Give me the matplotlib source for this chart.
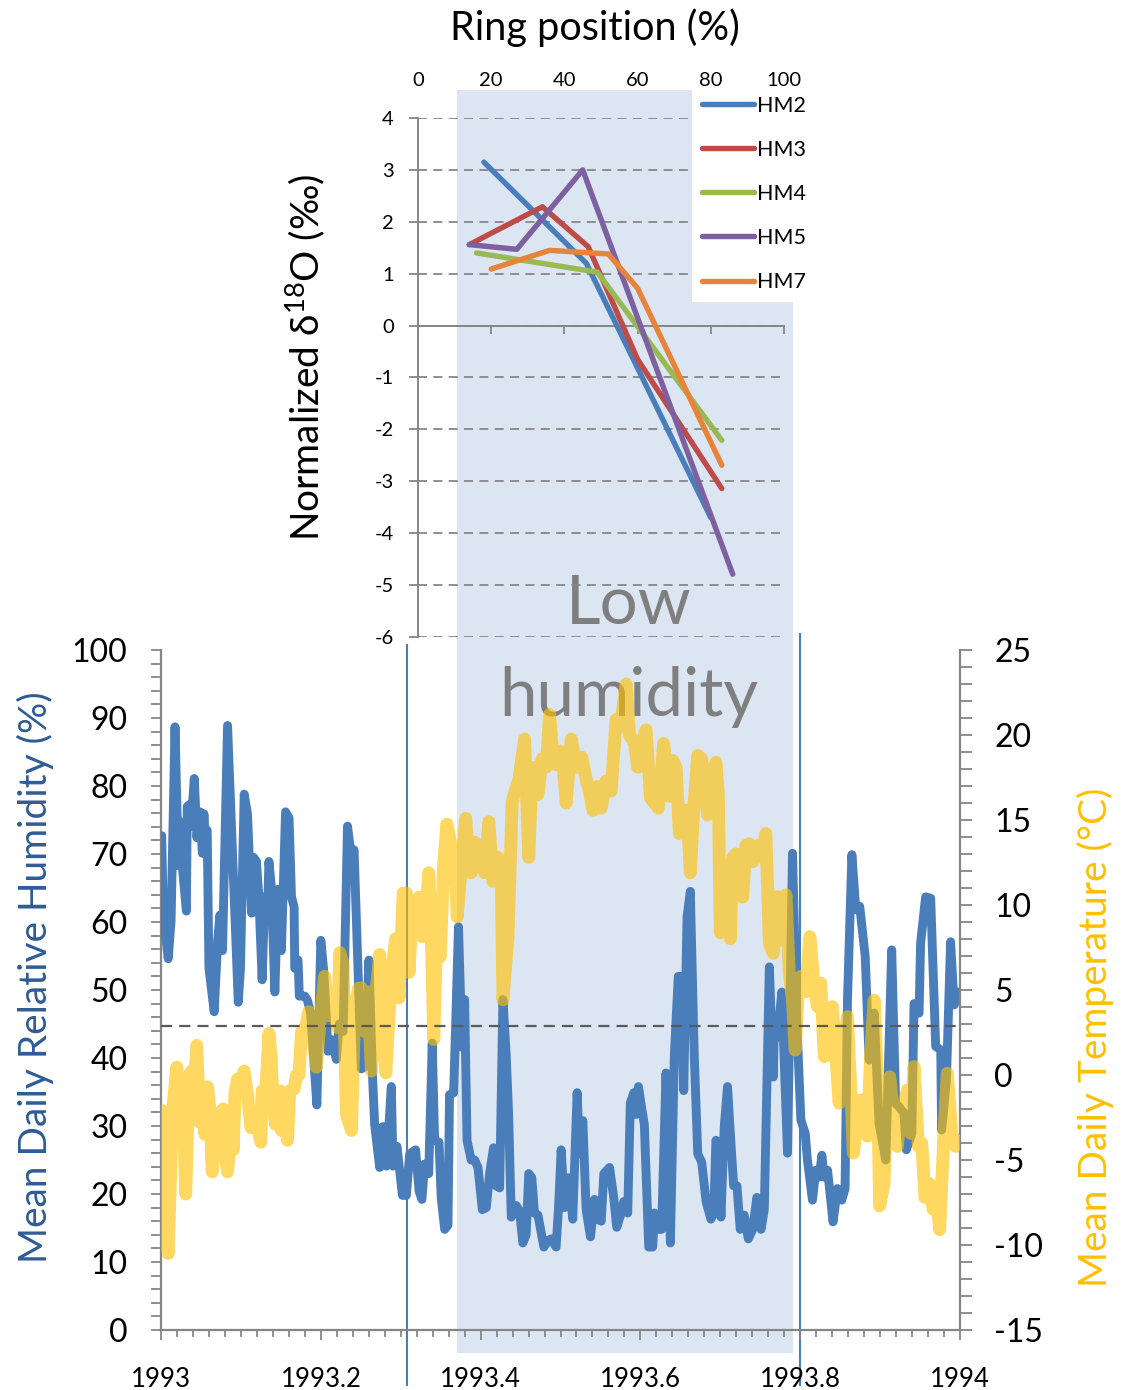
import matplotlib
matplotlib.use('Agg')
import matplotlib.pyplot as plt
import matplotlib.transforms as mtransforms
from matplotlib.patches import Rectangle
from matplotlib.lines import Line2D
from matplotlib.ticker import MultipleLocator, FixedLocator, FixedFormatter

plt.rcParams['font.family'] = ['Lato', 'DejaVu Sans']
plt.rcParams['mathtext.fontset'] = 'custom'
plt.rcParams['mathtext.rm'] = 'Lato'
plt.rcParams['mathtext.it'] = 'Lato:italic'
plt.rcParams['mathtext.bf'] = 'Lato:bold'
plt.rcParams['axes.unicode_minus'] = False

# ---------------- data: top panel (ring position vs normalized d18O) ----------------
series_names = ["HM2", "HM3", "HM4", "HM5", "HM7"]
series_colors = ["#4A7EBB", "#BE4B48", "#98B954", "#7D60A0", "#E8833A"]
hm2_pos = [18, 46, 80]
hm2_d18o = [3.15, 1.2, -3.7]
hm3_pos = [14, 34, 46.5, 60, 83]
hm3_d18o = [1.56, 2.29, 1.52, -0.65, -3.14]
hm4_pos = [16, 49, 83]
hm4_d18o = [1.40, 1.03, -2.21]
hm5_pos = [14, 27, 45, 86]
hm5_d18o = [1.56, 1.47, 3.0, -4.79]
hm7_pos = [20, 36, 52, 60, 83]
hm7_d18o = [1.09, 1.45, 1.38, 0.72, -2.69]

# ---------------- data: bottom panel (daily climate 1993) ----------------
rh_day = [0.3, 1.1, 3.3, 4.6, 6.4, 7.9, 9.1, 9.7, 11.6, 12.0, 13.2, 13.7, 15.2, 16.4, 17.8, 18.9, 19.6, 20.1,
          21.1, 21.9, 24.3, 25.9, 26.9, 28.1, 30.4, 32.2, 35.3, 36.3, 38.0, 39.5, 41.4, 42.3, 43.6, 44.7, 46.2,
          47.4, 48.7, 49.3, 50.5, 52.0, 53.5, 55.0, 56.9, 58.5, 59.6, 60.8, 61.1, 62.6, 63.2, 65.7, 66.9, 68.4,
          71.2, 73.0, 74.4, 76.3, 77.9, 80.1, 81.4, 83.2, 85.2, 87.0, 88.2, 91.5,
          93.1, 95.0, 96.6, 97.6, 99.9, 101.4, 103.0, 105.2, 106.0, 107.8, 110.3, 112.1, 113.6, 116.3, 117.9,
          119.2, 120.4, 122.3, 123.9, 125.0, 127.0, 128.0, 129.6, 131.1, 131.8, 133.7, 135.9, 137.5, 138.7,
          139.8, 141.7, 143.3, 144.8, 146.8, 148.6, 150.1, 151.9, 153.1, 154.7, 156.2, 157.7, 158.8, 160.0,
          162.3, 163.8, 165.3, 166.8, 168.0, 169.4, 170.6, 172.2, 173.4, 174.9, 176.7, 178.2, 180.5, 181.7,
          182.8, 184.3,
          186.2, 188.1, 190.1, 191.2, 192.7, 194.2, 196.2, 198.0, 199.5, 201.1, 202.3, 204.9, 206.8, 208.2,
          210.2, 211.4, 213.2, 214.4, 216.0, 217.0, 218.1, 219.6, 220.8, 222.8, 224.6, 225.4, 227.4, 228.7,
          230.7, 232.7, 234.5, 236.3, 237.6, 238.8, 240.3, 241.8, 243.6, 245.2, 247.0, 249.0, 251.2, 252.5,
          253.5, 254.6, 255.8, 257.3, 258.8, 260.1, 261.6, 263.1, 264.6, 266.4, 268.3, 270.3, 272.2, 274.1,
          275.6,
          277.9, 279.7, 280.1, 281.7, 283.6, 286.2, 288.5, 290.3, 292.3, 294.3, 295.3, 297.6, 299.1, 300.7,
          301.9, 302.9, 304.5, 307.0, 309.0, 311.0, 312.5, 313.6, 315.6, 317.4, 319.2, 321.7, 323.5, 325.8,
          328.0, 331.1, 333.8, 335.6, 337.2, 339.4, 340.5, 343.0, 344.0, 346.3, 347.0, 349.3, 351.6, 353.9,
          356.2, 356.6, 358.8, 360.7, 362.3, 364.5]
rh_val = [72.7, 60.8, 54.6, 60.2, 88.7, 68.3, 74.7, 68.3, 61.6, 77.0, 77.3, 74.1, 81.1, 72.4, 76.2, 70.1, 75.9, 73.0,
          73.5, 53.2, 46.8, 57.3, 61.0, 55.8, 88.9, 74.1, 48.2, 53.2, 78.8, 75.9, 61.3, 69.5, 68.9, 63.7, 51.5,
          63.7, 61.9, 68.9, 64.8, 49.7, 64.8, 55.8, 76.2, 75.3, 63.7, 62.2, 53.2, 54.4, 49.1, 49.1, 48.5, 46.5,
          33.1, 57.3, 52.6, 41.0, 42.7, 39.8, 45.0, 43.9, 74.1, 69.5, 70.6, 38.4,
          38.7, 54.4, 37.5, 30.2, 23.9, 29.9, 24.1, 35.8, 24.1, 27.0, 19.8, 19.8, 25.9, 26.5, 20.4,
          19.2, 24.4, 23.0, 42.2, 27.9, 27.6, 19.5, 14.8, 15.4, 34.6, 34.9, 59.3, 41.6, 48.6,
          27.9, 25.0, 25.0, 23.9, 17.7, 18.0, 23.0, 26.8, 21.2, 20.9, 48.6, 40.4, 31.7, 16.6,
          18.3, 17.5, 12.8, 14.0, 23.0, 22.4, 17.2, 16.9, 14.8, 12.2, 13.1, 13.4, 12.2, 18.6,
          26.5, 18.0,
          22.4, 16.3, 34.9, 25.9, 30.8, 17.7, 13.7, 19.2, 16.3, 16.0, 23.0, 23.9, 19.5, 15.1,
          17.2, 18.9, 17.2, 33.4, 34.9, 31.7, 35.8, 32.6, 30.2, 12.2, 12.2, 17.2, 14.8, 14.8,
          37.8, 12.8, 40.4, 52.0, 52.0, 35.2, 60.7, 64.5, 40.4, 25.9, 24.7, 18.9, 16.3, 17.2,
          27.9, 27.6, 16.6, 29.9, 35.8, 28.8, 21.2, 21.2, 14.8, 16.9, 13.4, 14.8, 19.5, 14.8,
          17.7,
          53.4, 37.2, 43.1, 43.1, 49.7, 26.0, 70.1, 46.6, 30.9, 28.9, 25.0, 19.1, 23.5, 22.5,
          25.7, 22.5, 23.5, 15.9, 20.8, 19.1, 20.8, 48.5, 69.9, 61.8, 62.3, 54.9, 39.7, 46.6,
          30.4, 25.0, 55.9, 33.3, 32.8, 31.9, 26.5, 28.9, 48.0, 46.6, 56.9, 63.7, 63.5, 41.7,
          41.2, 29.4, 36.8, 57.1, 47.8, 49.7]

t_day = [0.6, 1.8, 3.3, 5.2, 7.2, 8.7, 10.2, 11.3, 12.8, 14.0, 14.8, 16.3, 17.8, 18.9, 20.1, 21.3, 22.4, 23.4,
         25.1, 26.5, 28.4, 29.2, 30.4, 32.0, 33.0, 33.8, 35.0, 36.5, 38.0, 39.5, 41.1, 42.6, 44.1, 45.6, 46.2,
         47.8, 49.3, 50.2, 51.3, 52.3, 54.3, 55.0, 56.3, 57.8, 58.8, 60.8, 61.9, 63.0, 64.2, 66.0, 67.5, 69.5,
         71.0, 72.8, 74.8, 76.3, 77.6, 79.4, 80.6, 81.7, 83.2, 84.7, 87.0, 88.5, 90.3,
         91.6, 93.1, 94.6, 96.1, 98.1, 99.9, 101.4, 102.7, 104.5, 106.0, 107.2, 108.7, 110.6, 112.1, 113.3,
         114.8, 116.3, 117.9, 119.4, 120.4, 122.3, 123.5, 124.6, 126.1, 127.6, 129.1, 130.6, 132.6, 134.1,
         135.3, 137.2, 139.2, 140.2, 141.7, 143.3, 144.8, 146.3, 147.8, 149.8, 151.6, 153.9, 155.4, 156.2,
         158.5, 160.4, 161.5, 163.5, 166.1, 168.0, 169.6, 170.6, 172.2, 174.1, 176.0, 177.5, 179.0, 180.5,
         182.0, 183.6, 185.1,
         187.4, 189.7, 192.2, 194.2, 195.7, 197.3, 199.2, 201.1, 203.3, 205.6, 207.9, 209.9, 212.5, 214.0,
         216.3, 217.8, 219.6, 221.6, 223.6, 225.4, 227.2, 229.6, 231.2, 232.2, 233.8, 235.3, 236.8, 238.3,
         240.3, 241.8, 243.3, 245.2, 247.0, 248.2, 249.7, 251.2, 253.5, 254.6, 255.5, 257.0, 258.6, 260.1,
         261.1, 262.6, 263.4, 265.7, 267.2, 268.7, 270.3, 272.5, 274.4,
         276.3, 277.9, 279.7, 281.7, 283.2, 285.5, 287.0, 288.5, 289.7, 291.2, 292.3, 294.6, 296.4, 298.4,
         299.9, 301.4, 303.0, 305.2, 306.7, 308.0, 309.8, 311.3, 313.6, 315.1, 316.3, 318.1, 319.7, 321.7,
         322.7, 324.2, 325.8, 327.3, 328.3, 330.3, 331.8, 332.9, 334.9, 336.4, 337.9, 339.9, 341.0, 342.5,
         344.0, 346.0, 347.5, 349.0, 351.2, 352.7, 354.2, 355.7, 357.7, 359.2, 361.2, 363.0, 364.2]
t_val = [-2.1, -8.6, -10.5, -2.3, 0.46, -3.3, -2.1, -7.0, 0.0, 0.23, -2.56, 1.74, -2.79, -1.86, -3.5, -0.7, -2.1, -5.7,
         -2.4, -2.3, -2.0, -4.65, -5.7, -3.5, -4.4, -1.05, -0.24, -0.82, 0.23, -1.16, -3.1, -2.3, -3.0, -3.95, -0.93,
         -1.16, 2.44, 1.16, -1.86, -2.9, -0.93, -3.26, -1.86, -3.84, -0.93, -0.82, 0.0, 0.0, 2.56, 2.79, 3.72, 2.09,
         0.46, 3.49, 5.81, 3.49, 4.42, 3.72, 2.79, 7.2, 6.5, -2.3, -3.26, 3.95, 5.11,
         5.11, 2.56, 4.88, 0.23, 4.65, 7.09, 2.79, 0.12, 4.18, 6.74, 8.02, 4.53, 10.7, 10.7, 6.04,
         9.76, 8.6, 10.46, 8.14, 8.37, 11.9, 8.14, 2.09, 9.06, 6.97, 12.3, 14.76, 13.5, 13.25,
         9.3, 12.3, 15.1, 13.25, 11.9, 13.7, 13.5, 13.0, 11.9, 14.9, 11.4, 12.8, 12.3, 4.42,
         8.14, 16.0, 16.6, 17.4, 19.76, 12.8, 18.1, 17.4, 16.5, 18.6, 18.1, 21.2, 18.8, 18.25,
         19.06, 18.36, 16.0,
         19.76, 18.1, 18.7, 17.4, 16.7, 15.57, 16.97, 15.7, 17.3, 16.7, 20.9, 20.5, 23.0, 20.0,
         19.5, 18.1, 19.6, 20.3, 16.3, 16.0, 15.7, 19.5, 17.9, 16.4, 18.5, 18.1, 14.2, 15.57,
         15.57, 11.9, 15.57, 18.8, 18.6, 17.0, 15.3, 16.7, 18.4, 16.5, 8.37, 12.3, 11.9, 8.02,
         12.8, 13.0, 10.7, 10.46, 13.5, 13.6, 12.55, 13.5, 12.8,
         14.2, 7.75, 7.16, 10.5, 7.94, 10.6, 6.0, 4.4, 1.47, 5.2, 5.8, 4.9, 8.14, 5.2,
         4.02, 5.4, 1.08, 2.45, 4.02, 1.67, -1.66, 1.28, 3.43, -0.88, -4.6, -2.6, -1.47, -1.47,
         -3.6, 1.28, 4.4, -0.29, -7.7, -6.4, -0.49, -0.1, -2.45, -4.2, -2.25, -1.47, -0.88, -3.43,
         0.49, -4.2, -4.0, -7.2, -6.4, -7.9, -6.96, -9.1, -3.43, 0.1, -3.43, -4.2, -3.9]

year0 = 1993
days_in_year = 365
x_tick_values = [1993.0, 1993.2, 1993.4, 1993.6, 1993.8, 1994.0]
x_tick_labels = ["1993", "1993.2", "1993.4", "1993.6", "1993.8", "1994"]
rh_threshold = 44.7
low_humidity_span = (1993.371, 1993.791)
marker_lines = [1993.3075, 1993.7994]

rh_x = [year0 + d / days_in_year for d in rh_day]
t_x = [year0 + d / days_in_year for d in t_day]

# ---------------- figure ----------------
W, H = 1130, 1390
fig = plt.figure(figsize=(W / 100, H / 100), dpi=100)
fig.patch.set_facecolor('white')


def fx(px):
    return px / W


def fy(py):
    return 1 - py / H


GRAY = '#868686'

# bottom panel
ax = fig.add_axes([fx(161), fy(1330), (960 - 161) / W, (1330 - 650) / H])
ax.set_facecolor('none')
ax2 = ax.twinx()
ax2.set_facecolor('none')

ax.set_xlim(1993, 1994)
ax.set_ylim(0, 100)
ax2.set_ylim(-15, 25)

ax.plot(rh_x, rh_val, color='#4A7EBB', lw=6.4, solid_joinstyle='round', solid_capstyle='round', zorder=3)
ax2.plot(t_x, t_val, color='#FFC000', lw=9.3, alpha=0.62, solid_joinstyle='round',
         solid_capstyle='round', zorder=3)

thr = Line2D([0, 1], [rh_threshold, rh_threshold], color='#5A5A5A', lw=1.6, dashes=(5, 3.2),
             transform=mtransforms.blended_transform_factory(ax.transAxes, ax.transData), zorder=6)
ax2.add_line(thr)

for s in ['top']:
    ax.spines[s].set_visible(False)
    ax2.spines[s].set_visible(False)
for s in ['left', 'bottom', 'right']:
    ax.spines[s].set_color(GRAY)
    ax.spines[s].set_linewidth(1.6)
ax2.spines['left'].set_visible(False)
ax2.spines['bottom'].set_visible(False)
ax2.spines['right'].set_color(GRAY)
ax2.spines['right'].set_linewidth(1.6)
ax.spines['right'].set_visible(False)

ax.xaxis.set_major_locator(FixedLocator(x_tick_values))
ax.xaxis.set_major_formatter(FixedFormatter(x_tick_labels))
ax.xaxis.set_minor_locator(MultipleLocator(0.02))
ax.yaxis.set_major_locator(MultipleLocator(10))
ax.yaxis.set_minor_locator(MultipleLocator(2))
ax2.yaxis.set_major_locator(MultipleLocator(5))
ax2.yaxis.set_minor_locator(MultipleLocator(1))

ax.tick_params(axis='x', which='major', direction='out', length=7.5, width=1.3, color=GRAY,
               labelsize=18.5, pad=19)
ax.tick_params(axis='x', which='minor', direction='out', length=5, width=1.3, color=GRAY)
ax.tick_params(axis='y', which='both', direction='out', length=7.2, width=1.3, color=GRAY,
               labelsize=23, pad=17)
ax2.tick_params(axis='y', which='both', direction='out', length=8.5, width=1.3, color=GRAY,
                labelsize=23, pad=16)

# top panel
axt = fig.add_axes([fx(418), fy(637), (784 - 418) / W, (637 - 118) / H])
axt.set_facecolor('none')
axt.set_xlim(0, 100)
axt.set_ylim(-6, 4)
pos_list = [hm2_pos, hm3_pos, hm4_pos, hm5_pos, hm7_pos]
val_list = [hm2_d18o, hm3_d18o, hm4_d18o, hm5_d18o, hm7_d18o]
for name, c, xs, ys in zip(series_names, series_colors, pos_list, val_list):
    axt.plot(xs, ys, color=c, lw=3.9, label=name, solid_joinstyle='round', solid_capstyle='round', zorder=4)

axt.yaxis.set_major_locator(MultipleLocator(1))
axt.xaxis.set_major_locator(MultipleLocator(20))
axt.grid(axis='y', color=GRAY, lw=1.3, dashes=(5, 3.5))
axt.set_axisbelow(True)
for s in ['top', 'right']:
    axt.spines[s].set_visible(False)
axt.spines['bottom'].set_position(('data', 0))
axt.spines['bottom'].set_color(GRAY)
axt.spines['bottom'].set_linewidth(1.4)
axt.spines['left'].set_color(GRAY)
axt.spines['left'].set_linewidth(1.4)
axt.tick_params(axis='x', bottom=True, top=False, labelbottom=False, labeltop=True,
                direction='out', length=6, width=1.3, color=GRAY, labelsize=14.5, pad=15)
axt.tick_params(axis='y', direction='out', length=6.5, width=1.3, color=GRAY, labelsize=14.5, pad=11)

leg = axt.legend(loc='upper left', bbox_to_anchor=(fx(692), fy(86)), bbox_transform=fig.transFigure,
                 frameon=True, fancybox=False, framealpha=1, facecolor='white', edgecolor='none',
                 fontsize=15.5, handlelength=2.45, handletextpad=0.1, labelspacing=1.12,
                 borderpad=0.45, borderaxespad=0)
leg.set_zorder(5)

# shaded low-humidity band and marker lines
blend = mtransforms.blended_transform_factory(ax.transData, fig.transFigure)
shade = Rectangle((low_humidity_span[0], fy(1353)), low_humidity_span[1] - low_humidity_span[0],
                  fy(90) - fy(1353), transform=blend, facecolor='#DCE6F2', edgecolor='none', zorder=-2)
fig.add_artist(shade)
fig.add_artist(Line2D([marker_lines[0]] * 2, [fy(1385), fy(645)], transform=blend, color='#4A7EBB',
                      lw=1.5, zorder=-0.5))
fig.add_artist(Line2D([marker_lines[1]] * 2, [fy(1385), fy(634)], transform=blend, color='#4A7EBB',
                      lw=1.5, zorder=-0.5))

fig.text(fx(629), fy(605), 'Low', ha='center', va='center', fontsize=48.5, color='#7F7F7F', zorder=-1)
fig.text(fx(629), fy(697), 'humidity', ha='center', va='center', fontsize=48.5, color='#7F7F7F', zorder=-1)

# labels
fig.text(fx(595), fy(28), 'Ring position (%)', ha='center', va='center', fontsize=28.5, color='black')
fig.text(fx(305), fy(357), r'Normalized δ$^{18}$O (‰)', ha='center', va='center', rotation=90,
         fontsize=28, color='black')
fig.text(fx(35), fy(977), 'Mean Daily Relative Humidity (%)', ha='center', va='center', rotation=90,
         fontsize=28, color='#2F5C96')
fig.text(fx(1095), fy(1037), 'Mean Daily Temperature (°C)', ha='center', va='center', rotation=90,
         fontsize=28, color='#FFC000')

fig.savefig('out.png', dpi=100)
